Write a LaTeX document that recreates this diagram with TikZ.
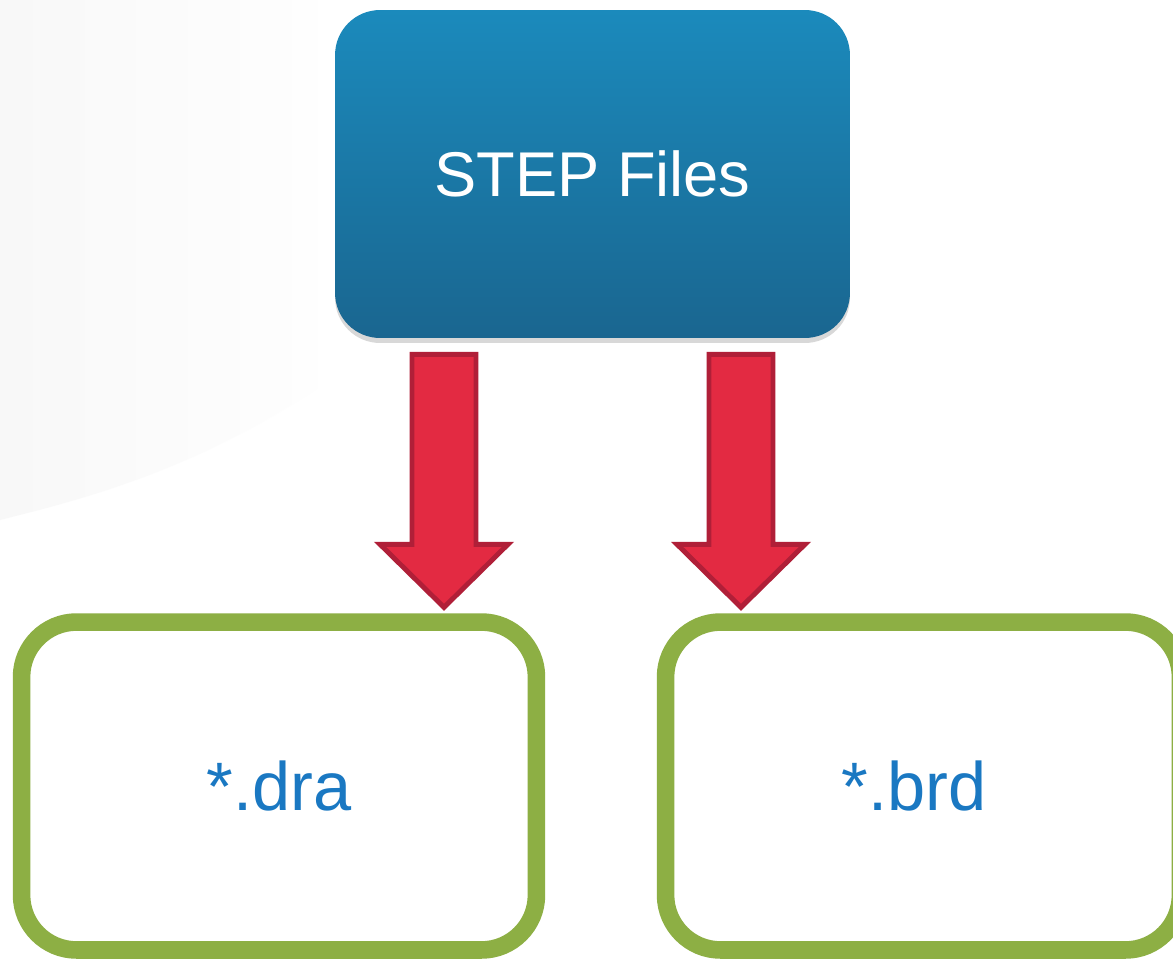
\documentclass[tikz,border=0pt]{standalone}
\usepackage{fontspec}
\setmainfont{Liberation Sans}
\usetikzlibrary{shadows,calc}
\definecolor{stepTop}{HTML}{1B8ABC}
\definecolor{stepBot}{HTML}{1A6690}
\definecolor{arrowFill}{HTML}{E32A42}
\definecolor{arrowEdge}{HTML}{B01F38}
\definecolor{boxGreen}{HTML}{8DAF44}
\definecolor{txtBlue}{HTML}{1A78C2}
\tikzset{
  stepbox/.style={rounded corners=0.9cm, top color=stepTop, bottom color=stepBot,
    draw=none, minimum width=10.3cm, minimum height=6.56cm,
    text=white, font=\fontsize{36}{40}\selectfont,
    drop shadow={shadow xshift=0pt, shadow yshift=-0.1cm, opacity=0.3, fill=black!50}},
  filebox/.style={rounded corners=1.1cm, draw=boxGreen, line width=10pt, fill=white,
    minimum width=10.3cm, minimum height=6.56cm,
    text=txtBlue, font=\fontsize{39}{44}\selectfont},
  bigarrow/.style={fill=arrowFill, draw=arrowEdge, line width=2.8pt, line join=miter},
}
\begin{document}
\begin{tikzpicture}[x=0.02cm,y=-0.02cm]
\useasboundingbox (0,0) rectangle (1173,960);
\fill[white] (0,0) rectangle (1173,960);
\shade[left color=black!5, right color=white, opacity=0.5] (0,0) -- (330,0) -- (330,380) .. controls (200,470) and (80,500) .. (0,520) -- cycle;
% top box
\node[stepbox] (step) at (592.5,174) {STEP Files};
% file boxes
\node[filebox] (dra) at (279,786) {*.dra};
\node[filebox] (brd) at (923,786) {\hspace*{-10pt}*.brd};
% arrows
\coordinate (a1) at ($(step.south)+(-148.5,16)$);
\coordinate (a2) at ($(step.south)+(148.5,16)$);
\foreach \c in {a1,a2}{
  \draw[bigarrow] ($(\c)+(-32,0)$) -- ($(\c)+(32,0)$) -- ($(\c)+(32,190)$) -- ($(\c)+(64,190)$)
    -- ($(\c)+(0,253)$) -- ($(\c)+(-64,190)$) -- ($(\c)+(-32,190)$) -- cycle;
}
\end{tikzpicture}
\end{document}
